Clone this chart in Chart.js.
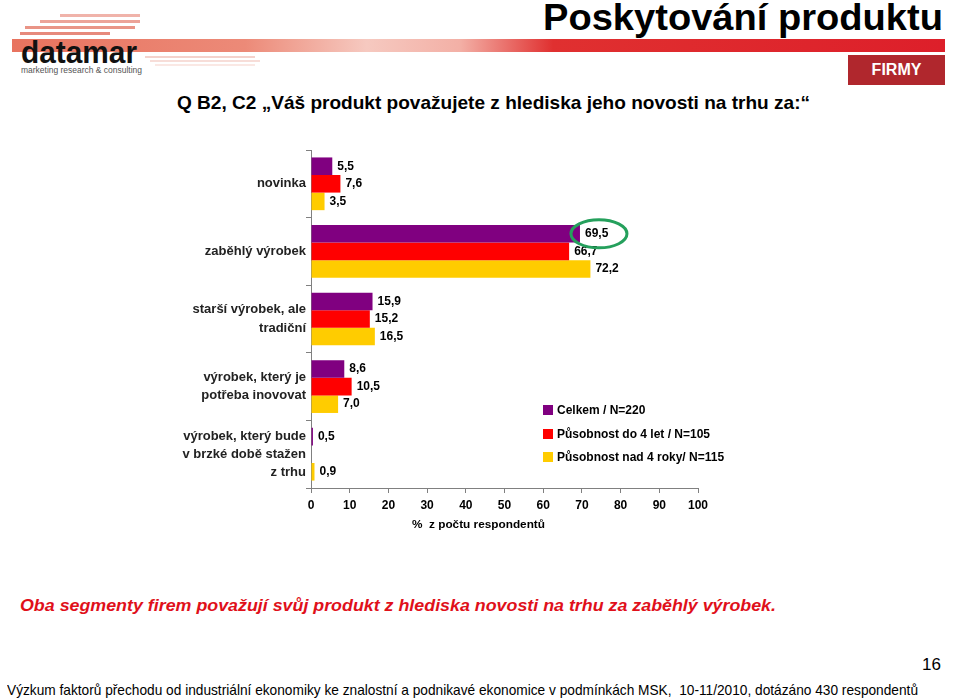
<!DOCTYPE html>
<html>
<head>
<meta charset="utf-8">
<script src="https://cdn.jsdelivr.net/npm/chart.js@4/dist/chart.umd.min.js"></script>
<style>
  html, body { margin:0; padding:0; background:#fff; }
  body { width:960px; height:698px; position:relative; overflow:hidden; font-family:"Liberation Sans", Arial, sans-serif; }
  .t { position:absolute; white-space:nowrap; line-height:1; transform-origin:0 0; }
  #chartWrap { position:absolute; left:0; top:140px; width:960px; height:400px; }
</style>
</head>
<body>
<script>
// ---- data ----
const categories = [
  ['novinka'],
  ['zaběhlý výrobek'],
  ['starší výrobek, ale', 'tradiční'],
  ['výrobek, který je', 'potřeba inovovat'],
  ['výrobek, který bude', 'v brzké době stažen', 'z trhu']
];
const seriesNames = ['Celkem / N=220', 'Působnost do 4 let / N=105', 'Působnost nad 4 roky/ N=115'];
const celkem   = [5.5, 69.5, 15.9, 8.6, 0.5];
const do4let   = [7.6, 66.7, 15.2, 10.5, null];
const nad4roky = [3.5, 72.2, 16.5, 7.0, 0.9];
const xTicks = [0, 10, 20, 30, 40, 50, 60, 70, 80, 90, 100];
const seriesColors = ['#800080', '#FF0000', '#FFCC00'];
const highlight = { dataset: 0, index: 1 };
</script>

<!-- header -->
<div style="position:absolute;left:12px;top:39px;width:933px;height:13px;background:linear-gradient(90deg,#E8735F 0%,#EC8A78 25%,#F6C9C0 38%,#F3B0A6 48%,#E03030 58%,#DD1F2A 100%);"></div>
<div style="position:absolute;left:60px;top:14px;width:80px;height:3px;background:#F0B3AA;"></div>
<div style="position:absolute;left:40px;top:20px;width:100px;height:3px;background:#ECA398;"></div>
<div style="position:absolute;left:25px;top:26px;width:110px;height:3px;background:#E99486;"></div>
<div style="position:absolute;left:20px;top:32px;width:90px;height:3px;background:#E78a7c;"></div>
<div style="position:absolute;left:145px;top:56px;width:110px;height:2px;background:#F4D2CC;"></div>
<div style="position:absolute;left:150px;top:60px;width:110px;height:2px;background:#F7DDD8;"></div>
<div style="position:absolute;left:155px;top:64px;width:100px;height:2px;background:#FAE8E4;"></div>
<div class="t" data-fit="116" style="left:21px;top:37px;font-size:31px;font-weight:bold;color:#111;">datamar</div>
<div class="t" data-fit="121" style="left:21px;top:66px;font-size:9px;color:#555;">marketing research &amp; consulting</div>

<div class="t" data-fit="400" style="left:543px;top:0px;font-size:36px;font-weight:bold;color:#000;">Poskytování produktu</div>
<div style="position:absolute;left:848px;top:55px;width:97px;height:30px;background:#B0272D;color:#fff;font-weight:bold;font-size:16px;display:flex;align-items:center;justify-content:center;">FIRMY</div>

<div class="t" data-fit="633" style="left:177px;top:93px;font-size:19px;font-weight:bold;color:#000;">Q B2, C2 „Váš produkt považujete z hlediska jeho novosti na trhu za:“</div>

<div id="chartWrap"><canvas id="c" width="960" height="400"></canvas></div>

<div class="t" data-fit="133" style="left:412px;top:519px;font-size:11px;font-weight:bold;color:#000;">%&nbsp; z počtu respondentů</div>

<div class="t" data-fit="756" style="left:20px;top:597px;font-size:17px;font-weight:bold;font-style:italic;color:#E0101A;">Oba segmenty firem považují svůj produkt z hlediska novosti na trhu za zaběhlý výrobek.</div>

<div class="t" style="left:922px;top:656px;font-size:17px;color:#000;">16</div>
<div class="t" data-fit="911" style="left:7px;top:682px;font-size:15px;color:#000;">Výzkum faktorů přechodu od industriální ekonomiky ke znalostní a podnikavé ekonomice v podmínkách MSK,&nbsp; 10-11/2010, dotázáno 430 respondentů</div>

<script>
document.querySelectorAll('[data-fit]').forEach(el => {
  const w = el.getBoundingClientRect().width;
  const target = parseFloat(el.getAttribute('data-fit'));
  el.style.transform = 'scaleX(' + (target / w) + ')';
});

const FONT = '"Liberation Sans", Arial, sans-serif';

const labelPlugin = {
  id: 'valueLabels',
  afterDatasetsDraw(chart) {
    const ctx = chart.ctx;
    ctx.save();
    ctx.font = 'bold 12px ' + FONT;
    ctx.fillStyle = '#000';
    ctx.textBaseline = 'middle';
    ctx.textAlign = 'left';
    chart.data.datasets.forEach((ds, di) => {
      const meta = chart.getDatasetMeta(di);
      meta.data.forEach((el, i) => {
        const v = ds.data[i];
        if (v === null || v === undefined) return;
        ctx.fillText(v.toFixed(1).replace('.', ','), el.x + 5, el.y);
      });
    });
    // highlight ellipse
    const el = chart.getDatasetMeta(highlight.dataset).data[highlight.index];
    ctx.strokeStyle = '#25A05C';
    ctx.lineWidth = 3;
    ctx.beginPath();
    ctx.ellipse(el.x + 19, el.y, 28, 14, 0, 0, Math.PI * 2);
    ctx.stroke();
    // legend
    const lx = 543, ly = [270, 294, 317];
    chart.data.datasets.forEach((ds, di) => {
      ctx.fillStyle = ds.backgroundColor;
      ctx.fillRect(lx, ly[di] - 5, 10, 10);
      ctx.fillStyle = '#000';
      ctx.fillText(ds.label, lx + 14, ly[di] + 1);
    });
    ctx.restore();
  }
};

new Chart(document.getElementById('c'), {
  type: 'bar',
  data: {
    labels: categories,
    datasets: [
      { label: seriesNames[0], data: celkem, backgroundColor: seriesColors[0] },
      { label: seriesNames[1], data: do4let, backgroundColor: seriesColors[1] },
      { label: seriesNames[2], data: nad4roky, backgroundColor: seriesColors[2] }
    ]
  },
  options: {
    indexAxis: 'y',
    responsive: false,
    animation: false,
    devicePixelRatio: 1,
    layout: { padding: { left: 0, right: 262, top: 10, bottom: 0 } },
    datasets: { bar: { categoryPercentage: 0.78, barPercentage: 1.0 } },
    plugins: { legend: { display: false }, tooltip: { enabled: false } },
    scales: {
      x: {
        min: 0, max: 100,
        afterBuildTicks(s) { s.ticks = xTicks.map(v => ({ value: v })); },
        afterFit(s) { s.height = 52; s.paddingLeft = 0; s.paddingRight = 0; },
        border: { color: '#808080', width: 1 },
        grid: { drawOnChartArea: false, drawTicks: true, tickLength: 5, color: '#808080' },
        ticks: { padding: 5, color: '#000', font: { family: FONT, size: 12, weight: 'bold' } }
      },
      y: {
        afterFit(s) { s.width = 311; s.paddingTop = 0; s.paddingBottom = 0; },
        border: { color: '#808080', width: 1 },
        grid: { drawOnChartArea: false, drawTicks: true, tickLength: 5, color: '#808080', offset: true },
        ticks: { padding: 0, color: '#222', font: { family: FONT, size: 13, weight: 'bold', lineHeight: 1.4 } }
      }
    }
  },
  plugins: [labelPlugin]
});
</script>
</body>
</html>
